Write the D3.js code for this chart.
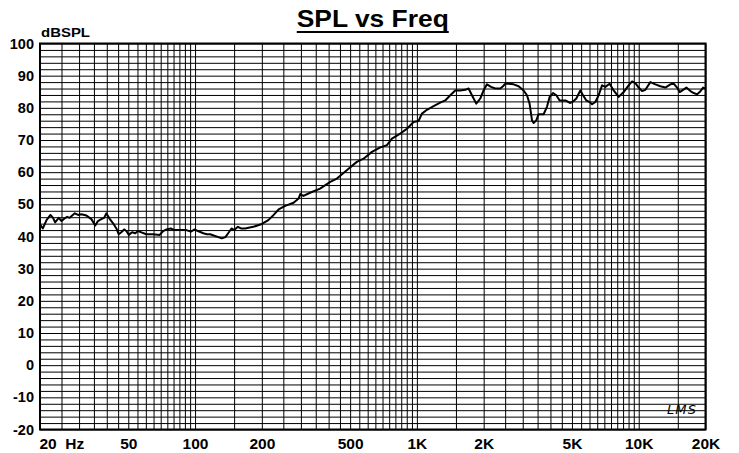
<!DOCTYPE html>
<html>
<head>
<meta charset="utf-8">
<script src="https://cdn.jsdelivr.net/npm/d3@7"></script>
<style>
  html, body { margin: 0; padding: 0; background: #fff; }
  svg { display: block; }
</style>
</head>
<body>
<svg id="chart"></svg>
<script>
const freq = [20, 20.6, 21.4, 22.3, 22.9, 23.4, 24.3, 25.0, 25.8, 26.5, 27.2, 28.7, 29.7, 30.7, 32.4, 34.1,
  35.5, 36.5, 37.8, 38.9, 39.8, 41.3, 42.7, 44.2, 45.3, 46.5, 47.9, 49.0, 50.3, 52.0, 53.8, 55.3, 57.3,
  60.3, 64.7, 69.3, 71.8, 74.3, 77.7, 81.0, 86.8, 91.4, 95.7, 99.7, 103, 109, 113,
  117, 132, 137, 141, 146, 150, 156, 161, 168, 183, 200, 214, 226, 238, 255, 278, 293, 298, 308, 330,
  366, 407, 436, 483, 536, 575, 627, 684, 733, 772, 841, 902, 966, 1017,
  1054, 1110, 1189, 1274, 1342, 1414, 1489, 1569, 1652, 1710, 1771, 1852, 1931, 1998, 2069, 2158, 2256,
  2377, 2444, 2504, 2591, 2729, 2874, 3027, 3135, 3221, 3304, 3359, 3453, 3537, 3726, 3859, 3966, 4107,
  4252, 4400, 4668,
  4918, 5089, 5233, 5455, 5610, 5806, 6008, 6160, 6375, 6597, 6834, 7072, 7395, 7709, 8120, 8554, 9008,
  9332, 9658, 9994, 10354, 10714, 11286, 11886, 12520, 13186, 13890, 14374, 14890, 15298, 15850, 16400,
  17100, 17696, 18332, 18832, 19512, 20000];
const spl = [43.8, 42.5, 45.1, 46.7, 45.8, 44.4, 45.8, 44.8, 45.6, 46.1, 45.8, 47.2, 46.7, 46.9, 46.5, 45.4,
  43.4, 44.8, 45.4, 45.8, 47.2, 45.4, 44.1, 42.5, 40.7, 41.3, 42.2, 41.7, 40.5, 41.3, 41.0, 41.7, 41.3,
  40.7, 40.7, 40.5, 41.7, 42.2, 42.5, 42.0, 42.0, 42.0, 41.5, 42.2, 41.7, 41.0, 40.7,
  40.7, 39.4, 39.8, 41.0, 42.5, 42.0, 43.0, 42.5, 42.5, 43.0, 43.9, 45.1, 46.7, 48.4, 49.5, 50.5, 51.8,
  53.2, 52.6, 53.6, 54.9, 57.0, 58.0, 60.6, 63.2, 64.2, 66.3, 67.7, 68.4, 70.4, 72.0, 73.5, 75.6, 75.9,
  78.2, 79.4, 80.5, 81.6, 82.3, 83.9, 85.4, 85.4, 85.6, 86.0, 83.9, 81.3, 82.9, 85.4, 87.3, 86.5, 86.0,
  86.0, 86.7, 87.5, 87.5, 87.3, 86.7, 85.4, 83.9, 81.3, 76.1, 75.3, 76.1, 78.0, 78.0, 80.3, 83.4, 84.6,
  83.9, 82.3, 82.3,
  81.5, 82.1, 82.9, 85.4, 83.9, 82.3, 81.8, 81.1, 81.8, 83.9, 87.0, 86.5, 87.5, 85.4, 83.4, 84.9, 87.0,
  88.2, 87.7, 86.3, 85.2, 85.6, 88.0, 87.3, 86.7, 86.3, 87.3, 87.5, 86.3, 84.9, 85.6, 86.3, 85.2, 84.6,
  84.2, 84.9, 86.3, 86.0];

const xLabelFreqs = [20, 50, 100, 200, 500, 1000, 2000, 5000, 10000, 20000];
const xLabelTexts = ["20  Hz", "50", "100", "200", "500", "1K", "2K", "5K", "10K", "20K"];
const yLabelValues = [-20, -10, 0, 10, 20, 30, 40, 50, 60, 70, 80, 90, 100];

const width = 739, height = 453;
const plotLeft = 40, plotRight = 705.5, plotTop = 43.5, plotBottom = 429.5;
const font = "'Liberation Sans', Arial, sans-serif";

const svg = d3.select("#chart")
  .attr("width", width)
  .attr("height", height);

svg.append("rect").attr("width", width).attr("height", height).attr("fill", "#fff");

const x = d3.scaleLog().domain([20, 20000]).range([plotLeft, plotRight]);
const y = d3.scaleLinear().domain([-20, 100]).range([plotBottom, plotTop]);

// grid lines: 5 Hz / 50 Hz / 500 Hz / 5 kHz steps, 2 dB steps
const gridFreqs = d3.range(20, 100, 5)
  .concat(d3.range(100, 1000, 50))
  .concat(d3.range(1000, 10000, 500))
  .concat([10000, 15000, 20000]);
const gridDb = d3.range(-20, 101, 2);

const labelOf = new Map(xLabelFreqs.map((f, i) => [f, xLabelTexts[i]]));

const xAxis = d3.axisBottom(x)
  .tickValues(gridFreqs)
  .tickSize(-(plotBottom - plotTop))
  .tickPadding(8.5)
  .tickFormat(d => labelOf.get(d) || "");

const yAxis = d3.axisLeft(y)
  .tickValues(gridDb)
  .tickSize(-(plotRight - plotLeft))
  .tickPadding(6)
  .tickFormat(d => yLabelValues.includes(d) ? d : "");

const gx = svg.append("g")
  .attr("transform", "translate(0," + plotBottom + ")")
  .call(xAxis);
gx.select(".domain").remove();
gx.selectAll(".tick line").attr("stroke", "#000").attr("stroke-width", 1);
gx.selectAll(".tick text")
  .attr("fill", "#000")
  .style("font", "bold 15.5px " + font)
  .style("white-space", "pre");
gx.selectAll(".tick").filter(d => d === 20).select("text")
  .attr("text-anchor", "start")
  .attr("x", -1);

const gy = svg.append("g")
  .attr("transform", "translate(" + plotLeft + ",0)")
  .call(yAxis);
gy.select(".domain").remove();
gy.selectAll(".tick line").attr("stroke", "#000").attr("stroke-width", 1);
gy.selectAll(".tick text")
  .attr("fill", "#000")
  .style("font", "bold 14.5px " + font);

// frame
svg.append("rect")
  .attr("x", plotLeft).attr("y", plotTop)
  .attr("width", plotRight - plotLeft).attr("height", plotBottom - plotTop)
  .attr("fill", "none")
  .attr("stroke", "#000")
  .attr("stroke-width", 2);

// response curve
const points = freq.map((f, i) => ({f: f, s: spl[i]}));
const line = d3.line()
  .x(d => x(d.f))
  .y(d => y(d.s));

svg.append("path")
  .datum(points)
  .attr("d", line)
  .attr("fill", "none")
  .attr("stroke", "#000")
  .attr("stroke-width", 2)
  .attr("stroke-linejoin", "round");

// title, underlined
const title = svg.append("text")
  .attr("x", (plotLeft + plotRight) / 2)
  .attr("y", 27)
  .attr("text-anchor", "middle")
  .attr("textLength", 152)
  .attr("lengthAdjust", "spacingAndGlyphs")
  .style("font", "bold 24px " + font)
  .text("SPL vs Freq");
const tb = title.node().getBBox();
svg.append("line")
  .attr("x1", tb.x).attr("x2", tb.x + tb.width)
  .attr("y1", 32).attr("y2", 32)
  .attr("stroke", "#000")
  .attr("stroke-width", 2);

svg.append("text")
  .attr("x", 41)
  .attr("y", 36.5)
  .attr("textLength", 49)
  .attr("lengthAdjust", "spacingAndGlyphs")
  .style("font", "bold 12px " + font)
  .text("dBSPL");

// LMS signature mark
svg.append("text")
  .attr("x", 667)
  .attr("y", 413.5)
  .attr("textLength", 30)
  .attr("lengthAdjust", "spacingAndGlyphs")
  .style("font", "italic 12px 'DejaVu Sans', sans-serif")
  .style("letter-spacing", "1px")
  .text("LMS");
</script>
</body>
</html>
